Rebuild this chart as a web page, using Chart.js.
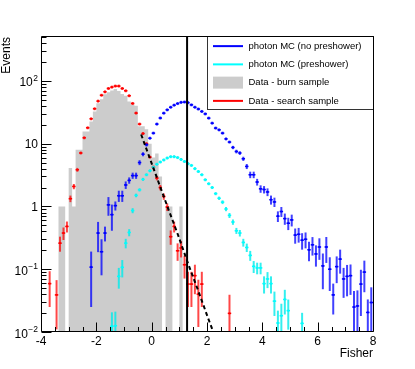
<!DOCTYPE html>
<html>
<head>
<meta charset="utf-8">
<title>Fisher discriminant</title>
<script src="https://cdn.jsdelivr.net/npm/chart.js"></script>
<style>
  html, body { margin: 0; padding: 0; background: #fff; }
  canvas { display: block; }
</style>
</head>
<body>
<canvas id="fisherChart" width="415" height="369"></canvas>
<script>
// Binning shared by every histogram: 96 bins of 0.125 between -4 and 8
const binLow = -4
const binWidth = 0.125
const xMin = -4
const xMax = 8
const yMin = 0.01
const yMax = 500
const xTickValues = [-4, -2, 0, 2, 4, 6, 8]
const yTickExponents = [-2, -1, 0, 1, 2]

// Data - burn sample (gray), starting at bin 5
const burnFirstBin = 5
const burnValues = [1, 1, 0, 4.1, 1, 8, 8, 15.6, 15.6, 22.6, 32.6, 44, 51, 61, 66, 70, 74, 69, 62, 58, 47, 42, 40, 19, 19, 17, 10, 6, 7, 3, 0, 1, 1, 0, 0, 1]

// Data - search sample (red), starting at bin 2
const searchFirstBin = 2
const searchValues = [0.059, null, 0.039, 0.26, 0.377, 0.48, 1.33, 2.08, 3.84, 7.1, 12.4, 17.9, 24.9, 36, 47.6, 59, 67, 75.7, 79.5, 82.6, 82.6, 75.7, 69.6, 58, 43.7, 30.7, 20.5, 14.5, 10, 6.1, 4.2, 2.83, 2.0, 1.44, 0.98, 0.33, 0.48, 0.197, 0.218, 0.118, 0.058, 0.058, 0.079, 0.040, 0.058, null, null, null, null, null, null, null, 0.0198]
const searchErrors = [0.034, null, 0.028, 0.07, 0.085, 0.095, 0.16, 0.2, 0.27, 0.37, 0.49, 0.58, 0.69, 0.83, 0.95, 1.06, 1.13, 1.2, 1.23, 1.25, 1.25, 1.2, 1.15, 1.05, 0.91, 0.76, 0.62, 0.52, 0.44, 0.34, 0.28, 0.23, 0.195, 0.165, 0.136, 0.085, 0.095, 0.061, 0.064, 0.047, 0.033, 0.033, 0.039, 0.028, 0.033, null, null, null, null, null, null, null, 0.0194]

// photon MC (no preshower), blue, starting at bin 14
const mcNoPsFirstBin = 14
const mcNoPsValues = [0.108, null, 0.377, 0.19, 0.377, 1.06, 0.74, 1.03, 1.48, 1.48, 2.2, 2.6, 3.1, 3.1, 5.0, 6.8, 9.6, 12.2, 14.7, 20.5, 25.6, 30.6, 34.6, 38, 41, 43.5, 45.5, 46, 45, 41.5, 38, 35.6, 32.6, 29.8, 25.5, 21.2, 17.7, 16.6, 14.7, 11.9, 10.6, 8.7, 7.5, 7.1, 5.75, 4.34, 3.2, 3.2, 2.45, 1.91, 1.86, 1.7, 1.28, 1.18, 0.70, 0.83, 0.64, 0.54, 0.61, 0.35, 0.36, 0.29, 0.30, 0.204, 0.245, 0.175, 0.226, 0.113, 0.226, 0.10, 0.039, 0.11, 0.145, 0.07, 0.077, 0.079, 0.025, 0.026, 0.058, 0.09, 0.0205, 0.0295]
const mcNoPsErrors = [0.083, null, 0.19, 0.11, 0.1, 0.35, 0.33, 0.17, 0.3, 0.3, 0.3, 0.3, 0.35, 0.35, 0.45, 0.5, 0.6, 0.65, 0.7, 0.8, 0.9, 1.0, 1.05, 1.1, 1.15, 1.2, 1.2, 1.2, 1.2, 1.15, 1.1, 1.05, 1.0, 0.95, 0.9, 0.8, 0.75, 0.72, 0.68, 0.62, 0.58, 0.53, 0.5, 0.48, 0.44, 0.4, 0.38, 0.38, 0.3, 0.26, 0.25, 0.24, 0.21, 0.2, 0.135, 0.15, 0.13, 0.12, 0.13, 0.095, 0.095, 0.085, 0.085, 0.07, 0.08, 0.065, 0.085, 0.065, 0.1, 0.055, 0.02, 0.05, 0.06, 0.035, 0.04, 0.04, 0.02, 0.02, 0.04, 0.047, 0.0125, 0.022]

// photon MC (preshower), cyan, starting at bin 20
const mcPsFirstBin = 20
const mcPsValues = [0.0123, 0.0126, 0.077, 0.107, 0.26, 0.385, 0.86, 1.5, 1.84, 2.7, 3.2, 3.7, 4.2, 4.7, 5.1, 5.5, 5.9, 6.2, 6.2, 6.0, 5.6, 5.2, 4.8, 4.5, 4.0, 3.6, 3.2, 2.66, 2.3, 2.0, 1.6, 1.35, 1.17, 0.91, 0.72, 0.565, 0.41, 0.377, 0.267, 0.222, 0.166, 0.111, 0.105, 0.105, 0.059, 0.070, 0.059, 0.031, 0.0139, 0.0182, 0.033, 0.0219, null, null, null, 0.0137]
const mcPsErrors = [0.0083, 0.0085, 0.028, 0.033, 0.045, 0.05, 0.08, 0.1, 0.11, 0.13, 0.14, 0.15, 0.16, 0.17, 0.17, 0.18, 0.18, 0.19, 0.19, 0.19, 0.18, 0.17, 0.16, 0.16, 0.15, 0.14, 0.13, 0.12, 0.11, 0.1, 0.09, 0.085, 0.08, 0.07, 0.065, 0.055, 0.045, 0.045, 0.038, 0.034, 0.03, 0.024, 0.022, 0.022, 0.018, 0.02, 0.018, 0.013, 0.008, 0.01, 0.014, 0.011, null, null, null, 0.0065]

// Fit to the search sample tail (dashed)
const fitX = [-0.38, 0.59, 0.95, 1.31, 1.67, 2.04, 2.22]
const fitY = [14, 0.94, 0.354, 0.125, 0.047, 0.0166, 0.0102]

// Cut value (vertical line)
const cutValue = 1.28

const legendLabels = ["photon MC (no preshower)", "photon MC (preshower)", "Data - burn sample", "Data - search sample"]

const fontFamily = '"Liberation Sans", Arial, Helvetica, sans-serif'

// bin index -> bin centre
function binCenter(i) {
  return binLow + binWidth * (i + 0.5)
}

// points {x, y} for the filled bins of a histogram with errors
function toPoints(firstBin, values) {
  const pts = []
  values.forEach((v, k) => {
    if (v !== null) pts.push({ x: binCenter(firstBin + k), y: v })
  })
  return pts
}

function toErrors(values, errors) {
  return errors.filter((e, k) => values[k] !== null)
}

// step outline for the burn sample: left bin edges + closing edge
function burnSteps() {
  const pts = []
  burnValues.forEach((v, k) => {
    pts.push({ x: binLow + binWidth * (burnFirstBin + k), y: v > 0 ? v : yMin })
  })
  pts.push({ x: binLow + binWidth * (burnFirstBin + burnValues.length), y: yMin })
  return pts
}

// Error bars drawn right after the dataset they belong to
const errorBarPlugin = {
  id: "errorBars",
  afterDatasetDraw(chart, args) {
    const ds = chart.data.datasets[args.index]
    if (!ds.errors) return
    const ctx = chart.ctx
    const xs = chart.scales.x
    const ys = chart.scales.y
    const a = chart.chartArea
    ctx.save()
    ctx.beginPath()
    ctx.rect(a.left, a.top, a.right - a.left, a.bottom - a.top)
    ctx.clip()
    ds.data.forEach((pt, i) => {
      const err = ds.errors[i]
      const xc = xs.getPixelForValue(pt.x)
      const xl = xs.getPixelForValue(pt.x - binWidth / 2)
      const xr = xs.getPixelForValue(pt.x + binWidth / 2)
      const yc = ys.getPixelForValue(pt.y)
      const yHi = ys.getPixelForValue(pt.y + err)
      const lo = pt.y - err
      const yLo = lo > 0 ? ys.getPixelForValue(lo) : a.bottom + 5
      ctx.strokeStyle = ds.barColor
      ctx.lineWidth = 2
      ctx.beginPath()
      ctx.moveTo(xc, Math.min(yHi, yc - 1.5))
      ctx.lineTo(xc, Math.max(yLo, yc + 1.5))
      ctx.stroke()
      ctx.strokeStyle = ds.borderColor
      ctx.lineWidth = 1.5
      ctx.beginPath()
      ctx.moveTo(xl, yc)
      ctx.lineTo(xr, yc)
      ctx.stroke()
    })
    ctx.restore()
  },
}

// ROOT-like frame, ticks, labels, titles and legend
const framePlugin = {
  id: "rootFrame",
  afterDraw(chart) {
    const ctx = chart.ctx
    const a = chart.chartArea
    const xs = chart.scales.x
    const ys = chart.scales.y
    ctx.save()

    // legend box
    const lw = 166
    const lh = 73
    const lx = a.right - lw
    const ly = a.top
    ctx.fillStyle = "#fff"
    ctx.fillRect(lx, ly, lw, lh)
    ctx.strokeStyle = "#333"
    ctx.lineWidth = 1
    ctx.strokeRect(lx + 0.5, ly - 0.5, lw, lh)
    const rowH = lh / legendLabels.length
    const legendColors = ["#0000ff", "#00ffff", "#cccccc", "#ff0000"]
    legendLabels.forEach((label, r) => {
      const cy = ly + rowH * (r + 0.5)
      if (r === 2) {
        ctx.fillStyle = legendColors[r]
        ctx.fillRect(lx + 6, cy - 6, 30, 12)
      } else {
        ctx.strokeStyle = legendColors[r]
        ctx.lineWidth = 2
        ctx.beginPath()
        ctx.moveTo(lx + 6, cy)
        ctx.lineTo(lx + 36, cy)
        ctx.stroke()
      }
      ctx.fillStyle = "#000"
      ctx.font = "9.5px " + fontFamily
      ctx.textAlign = "left"
      ctx.textBaseline = "middle"
      ctx.fillText(label, lx + 41.5, cy)
    })

    // frame
    ctx.strokeStyle = "#000"
    ctx.lineWidth = 1
    ctx.beginPath()
    ctx.moveTo(a.left + 0.5, a.top - 0.5)
    ctx.lineTo(a.right + 0.5, a.top - 0.5)
    ctx.lineTo(a.right + 0.5, a.bottom - 0.5)
    ctx.lineTo(a.left + 0.5, a.bottom - 0.5)
    ctx.closePath()
    ctx.stroke()

    // x ticks: major every 2, minor every 0.5
    ctx.beginPath()
    for (let k = 0; k <= (xMax - xMin) * 2; k++) {
      const v = xMin + k * 0.5
      const px = Math.round(xs.getPixelForValue(v)) + 0.5
      const len = k % 4 === 0 ? 9 : 4.5
      ctx.moveTo(px, a.bottom - 0.5)
      ctx.lineTo(px, a.bottom - 0.5 - len)
    }
    // y ticks: decades and 2..9 sub-ticks
    for (let d = -2; d <= 2; d++) {
      for (let m = 1; m <= 9; m++) {
        const v = m * Math.pow(10, d)
        if (v > yMax) break
        const py = Math.round(ys.getPixelForValue(v)) + 0.5
        const len = m === 1 ? 10 : 5
        ctx.moveTo(a.left + 0.5, py)
        ctx.lineTo(a.left + 0.5 + len, py)
      }
    }
    ctx.stroke()

    // x tick labels
    ctx.fillStyle = "#000"
    ctx.font = "12px " + fontFamily
    ctx.textAlign = "center"
    ctx.textBaseline = "alphabetic"
    xTickValues.forEach((v) => {
      ctx.fillText(String(v), xs.getPixelForValue(v), a.bottom + 12.5)
    })

    // y tick labels, with superscript exponents
    const rightEdge = a.left - 3
    yTickExponents.forEach((e) => {
      const py = ys.getPixelForValue(Math.pow(10, e))
      ctx.textAlign = "right"
      if (e === 0 || e === 1) {
        ctx.font = "12px " + fontFamily
        ctx.fillText(e === 0 ? "1" : "10", rightEdge, py + 4.3)
      } else {
        const sup = e < 0 ? "\u2212" + Math.abs(e) : String(e)
        ctx.font = "8.5px " + fontFamily
        const supW = ctx.measureText(sup).width
        ctx.fillText(sup, rightEdge, py)
        ctx.font = "12px " + fontFamily
        ctx.fillText("10", rightEdge - supW - 0.5, py + 5.5)
      }
    })

    // axis titles
    ctx.font = "12px " + fontFamily
    ctx.textAlign = "right"
    ctx.textBaseline = "alphabetic"
    ctx.fillText("Fisher", a.right, a.bottom + 25)
    ctx.save()
    ctx.translate(10, a.top)
    ctx.rotate(-Math.PI / 2)
    ctx.fillText("Events", 0, 0)
    ctx.restore()

    ctx.restore()
  },
}

const fisherCtx = document.getElementById("fisherChart")
const fisherChart = new Chart(fisherCtx, {
  type: "scatter",
  data: {
    datasets: [
      {
        label: "Data - burn sample",
        type: "line",
        data: burnSteps(),
        stepped: "before",
        fill: "start",
        backgroundColor: "#cccccc",
        borderColor: "rgba(0,0,0,0)",
        borderWidth: 0,
        pointRadius: 0,
        order: 10,
      },
      {
        label: "Data - search sample",
        data: toPoints(searchFirstBin, searchValues),
        errors: toErrors(searchValues, searchErrors),
        borderColor: "#ff0000",
        backgroundColor: "#ff0000",
        barColor: "rgba(255, 0, 0, 0.72)",
        pointStyle: "rect",
        pointRadius: 1.2,
        borderWidth: 0,
        order: 6,
      },
      {
        label: "photon MC (preshower)",
        data: toPoints(mcPsFirstBin, mcPsValues),
        errors: toErrors(mcPsValues, mcPsErrors),
        borderColor: "#00ffff",
        backgroundColor: "#00ffff",
        barColor: "rgba(0, 235, 235, 0.8)",
        pointStyle: "rect",
        pointRadius: 1.2,
        borderWidth: 0,
        order: 5,
      },
      {
        label: "photon MC (no preshower)",
        data: toPoints(mcNoPsFirstBin, mcNoPsValues),
        errors: toErrors(mcNoPsValues, mcNoPsErrors),
        borderColor: "#0000ff",
        backgroundColor: "#0000ff",
        barColor: "rgba(0, 0, 255, 0.75)",
        pointStyle: "rect",
        pointRadius: 1.2,
        borderWidth: 0,
        order: 4,
      },
      {
        label: "fit",
        type: "line",
        data: fitX.map((x, k) => ({ x: x, y: fitY[k] })),
        borderColor: "#000",
        borderWidth: 2,
        borderDash: [4, 3],
        pointRadius: 0,
        fill: false,
        tension: 0,
        order: 2,
      },
      {
        label: "cut",
        type: "line",
        data: [{ x: cutValue, y: yMin }, { x: cutValue, y: yMax }],
        borderColor: "#000",
        borderWidth: 2,
        pointRadius: 0,
        fill: false,
        order: 1,
      },
    ],
  },
  options: {
    responsive: false,
    animation: false,
    devicePixelRatio: 1,
    layout: { padding: { left: 41, top: 37, right: 42, bottom: 37 } },
    plugins: {
      legend: { display: false },
      tooltip: { enabled: false },
    },
    scales: {
      x: { type: "linear", min: xMin, max: xMax, display: false },
      y: { type: "logarithmic", min: yMin, max: yMax, display: false },
    },
  },
  plugins: [errorBarPlugin, framePlugin],
})
</script>
</body>
</html>
